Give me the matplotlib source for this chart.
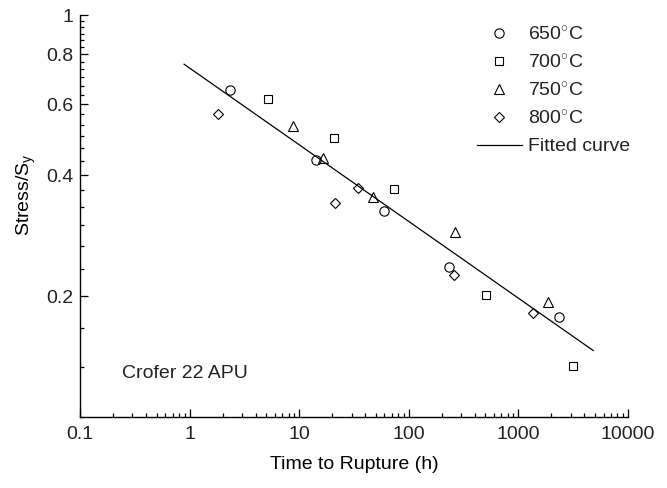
import numpy as np
import matplotlib
matplotlib.use("Agg")
import matplotlib.pyplot as plt
from matplotlib.ticker import FixedLocator, LogLocator, NullFormatter

plt.rcParams["font.family"] = ["Liberation Sans", "DejaVu Sans"]
plt.rcParams["mathtext.fontset"] = "custom"
plt.rcParams["mathtext.rm"] = "Liberation Sans"
plt.rcParams["mathtext.it"] = "Liberation Sans"
plt.rcParams["text.color"] = "#222222"
plt.rcParams["xtick.labelcolor"] = "#222222"
plt.rcParams["ytick.labelcolor"] = "#222222"

# rupture time (h) vs normalised stress
t650 = [2.34, 14.2, 58.8, 233, 2360]
s650 = [0.653, 0.435, 0.326, 0.236, 0.178]
t700 = [5.16, 20.9, 73.3, 506, 3130]
s700 = [0.618, 0.495, 0.370, 0.201, 0.134]
t750 = [8.72, 16.4, 46.8, 266, 1875]
s750 = [0.529, 0.441, 0.353, 0.289, 0.194]
t800 = [1.83, 21.2, 34.2, 260, 1350]
s800 = [0.569, 0.341, 0.372, 0.226, 0.182]
# fitted power law, end points
t_fit = [0.89, 4820]
s_fit = [0.755, 0.1465]

FS = 14

fig = plt.figure(figsize=(6.67, 4.88), dpi=100)
ax = fig.add_axes([0.12, 0.145, 0.8215, 0.824])

mk = dict(ls="none", mfc="none", mec="k", mew=0.8)
ax.plot(t650, s650, marker="o", ms=6.7, label="650$^{\\circ}$C", **mk)
ax.plot(t700, s700, marker="s", ms=5.5, label="700$^{\\circ}$C", **mk)
ax.plot(t750, s750, marker="^", ms=7, label="750$^{\\circ}$C", **mk)
ax.plot(t800, s800, marker="D", ms=5, label="800$^{\\circ}$C", **mk)
ax.plot(t_fit, s_fit, "k-", lw=0.9, label="Fitted curve")

ax.set_xscale("log")
ax.set_yscale("log")
ax.set_xlim(0.1, 10000)
ax.set_ylim(0.1, 1)

ax.set_xticks([0.1, 1, 10, 100, 1000, 10000])
ax.set_xticklabels(["0.1", "1", "10", "100", "1000", "10000"])
ax.xaxis.set_minor_locator(LogLocator(base=10, subs=np.arange(2, 10)))
ax.xaxis.set_minor_formatter(NullFormatter())

yt = [0.2, 0.4, 0.6, 0.8, 1.0]
ax.set_yticks(yt)
ax.set_yticklabels(["0.2", "0.4", "0.6", "0.8", "1"])
ym = np.arange(3, 31) / 30
ym = [v for v in ym if min(abs(v - m) for m in yt) > 1e-6]
ax.yaxis.set_minor_locator(FixedLocator(ym))
ax.yaxis.set_minor_formatter(NullFormatter())

for s in ("top", "right"):
    ax.spines[s].set_visible(False)
for s in ("left", "bottom"):
    ax.spines[s].set_linewidth(1.0)

ax.tick_params(which="both", direction="in", labelsize=FS, width=0.9)
ax.tick_params(which="major", length=5.5)
ax.tick_params(which="minor", length=2.8)
ax.tick_params(axis="x", which="major", pad=6)
ax.tick_params(axis="y", which="major", pad=5)

ax.set_xlabel("Time to Rupture (h)", fontsize=FS, labelpad=10)
ax.set_ylabel("Stress/S$_{\\mathrm{y}}$", fontsize=FS)
ax.yaxis.set_label_coords(-0.077, 0.553)

ax.text(0.076, 0.11, "Crofer 22 APU", transform=ax.transAxes, fontsize=FS,
        va="center", ha="left")

ax.legend(loc="upper left", bbox_to_anchor=(0.7245, 0.973), frameon=False,
          fontsize=FS, borderpad=0, borderaxespad=0, handlelength=2.3,
          handletextpad=0.3, labelspacing=0.5, numpoints=1)

fig.savefig("out.png", dpi=100)
